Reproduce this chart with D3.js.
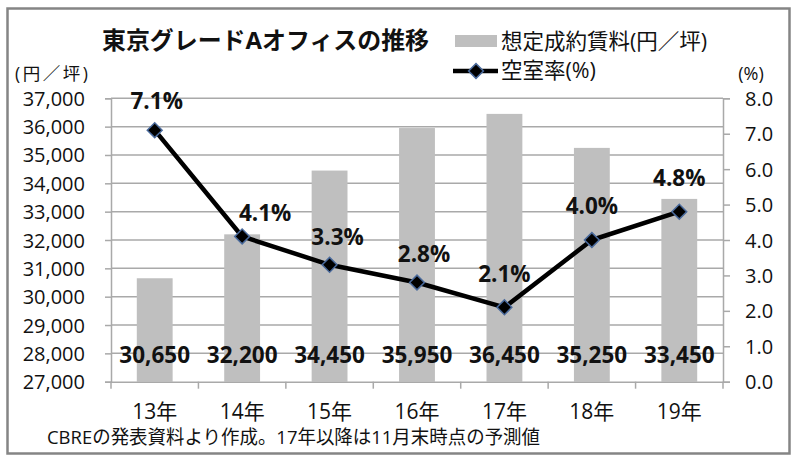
<!DOCTYPE html>
<html><head><meta charset="utf-8">
<script src="https://cdn.jsdelivr.net/npm/d3@7"></script>
<style>
html,body{margin:0;padding:0;background:#fff;}
text{font-family:"Open Sans","Noto Sans CJK JP",sans-serif;fill:#111;}
</style></head>
<body>
<svg id="c" width="800" height="463"></svg>
<script>
const categories = ["13年","14年","15年","16年","17年","18年","19年"];
const rent = [30650, 32200, 34450, 35950, 36450, 35250, 33450];
const vacancy = [7.1, 4.1, 3.3, 2.8, 2.1, 4.0, 4.8];
const rentTicks = [27000,28000,29000,30000,31000,32000,33000,34000,35000,36000,37000];
const vacancyTicks = [0,1,2,3,4,5,6,7,8];
const title = "東京グレードAオフィスの推移";
const legendRent = "想定成約賃料(円／坪)";
const legendVac = "空室率(%)";
const leftUnit = "(円／坪)";
const rightUnit = "(%)";
const caption = "CBREの発表資料より作成。17年以降は11月末時点の予測値";

// layout tweaks for the vacancy labels (pixel nudges, not data)
const labelDx = [2, 23, 8, 7, 0, 0, 0];
const labelDy = [-21, -15, -20, -21, -25, -26, -26];

const svg = d3.select("#c");
const L = 111, R = 723, T = 98.3, B = 381.7;
const gridColor = "#a9a9a9";

svg.append("rect").attr("x",0).attr("y",0).attr("width",800).attr("height",463).attr("fill","#fff");
svg.append("rect").attr("x",7.5).attr("y",8.5).attr("width",782).attr("height",445)
  .attr("fill","none").attr("stroke","#858585").attr("stroke-width",2.5);

const x = d3.scaleBand().domain(categories).range([L,R]).paddingInner(0).paddingOuter(0);
const y = d3.scaleLinear().domain([27000,37000]).range([B,T]);
const y2 = d3.scaleLinear().domain([0,8]).range([B,T]);

// gridlines
svg.append("g").selectAll("line").data(rentTicks.slice(1)).join("line")
  .attr("x1",L).attr("x2",R).attr("y1",d=>y(d)).attr("y2",d=>y(d))
  .attr("stroke",gridColor).attr("stroke-width",1.5);

// bars
const bw = x.bandwidth()*0.41;
svg.append("g").selectAll("rect").data(rent).join("rect")
  .attr("x",(d,i)=>x(categories[i])+x.bandwidth()/2-bw/2)
  .attr("width",bw)
  .attr("y",d=>y(d)).attr("height",d=>B-y(d))
  .attr("fill","#bfbfbf");

// left axis
const gl = svg.append("g").attr("transform",`translate(${L},0)`)
  .call(d3.axisLeft(y).tickValues(rentTicks).tickFormat(d3.format(",")).tickSize(6).tickPadding(20));
gl.select(".domain").attr("stroke",gridColor).attr("stroke-width",1.5);
gl.selectAll(".tick line").attr("stroke",gridColor).attr("stroke-width",1.5);
gl.selectAll(".tick text").style("font-size","20px").attr("fill","#111").attr("dy","0.35em");

// right axis
const gr = svg.append("g").attr("transform",`translate(${R},0)`)
  .call(d3.axisRight(y2).tickValues(vacancyTicks).tickFormat(d3.format(".1f")).tickSize(7).tickPadding(15));
gr.select(".domain").attr("stroke",gridColor).attr("stroke-width",1.5);
gr.selectAll(".tick line").attr("stroke",gridColor).attr("stroke-width",1.5);
gr.selectAll(".tick text").style("font-size","20px").attr("fill","#111").attr("dy","0.35em");

// bottom axis
const gb = svg.append("g").attr("transform",`translate(0,${B})`)
  .call(d3.axisBottom(x).tickSize(0).tickPadding(22));
gb.select(".domain").attr("stroke",gridColor).attr("stroke-width",1.5);
gb.selectAll(".tick text").style("font-size","21px").attr("fill","#111");
svg.append("g").selectAll("line").data(d3.range(categories.length+1)).join("line")
  .attr("x1",i=>L+i*x.step()).attr("x2",i=>L+i*x.step())
  .attr("y1",B).attr("y2",B+7).attr("stroke",gridColor).attr("stroke-width",1.5);

// bar value labels
svg.append("g").selectAll("text").data(rent).join("text")
  .attr("x",(d,i)=>x(categories[i])+x.bandwidth()/2)
  .attr("y",363).attr("text-anchor","middle")
  .style("font-size","22.5px").style("font-weight","bold")
  .text(d=>d3.format(",")(d));

// vacancy line
const line = d3.line().x((d,i)=>x(categories[i])+x.bandwidth()/2).y(d=>y2(d));
svg.append("path").datum(vacancy).attr("d",line)
  .attr("fill","none").attr("stroke","#000").attr("stroke-width",4.5).attr("stroke-linejoin","round");

const diamond = d3.symbol().type(d3.symbolSquare).size(110);
svg.append("g").selectAll("path").data(vacancy).join("path")
  .attr("d",diamond)
  .attr("transform",(d,i)=>`translate(${x(categories[i])+x.bandwidth()/2},${y2(d)}) rotate(45)`)
  .attr("fill","#000").attr("stroke","#4a6a9c").attr("stroke-width",1.5);

svg.append("g").selectAll("text").data(vacancy).join("text")
  .attr("x",(d,i)=>x(categories[i])+x.bandwidth()/2+labelDx[i])
  .attr("y",(d,i)=>y2(d)+labelDy[i]).attr("text-anchor","middle")
  .style("font-size","22.5px").style("font-weight","bold")
  .text(d=>d.toFixed(1)+"%");

// title
svg.append("text").attr("x",102).attr("y",49).style("font-size","24px").style("font-weight","bold")
  .attr("textLength",327).attr("lengthAdjust","spacingAndGlyphs")
  .text(title);

// legend
svg.append("rect").attr("x",455).attr("y",35).attr("width",42).attr("height",12).attr("fill","#bfbfbf");
svg.append("text").attr("x",501).attr("y",49).style("font-size","21.5px").text(legendRent);
svg.append("line").attr("x1",453).attr("x2",498).attr("y1",71).attr("y2",71).attr("stroke","#000").attr("stroke-width",4.5);
svg.append("path").attr("d",diamond).attr("transform","translate(476,71) rotate(45)")
  .attr("fill","#000").attr("stroke","#4a6a9c").attr("stroke-width",1.5);
svg.append("text").attr("x",501).attr("y",78).style("font-size","21.5px").text(legendVac);

// unit labels
svg.append("text").attr("x",15).attr("y",80).style("font-size","17.5px")
  .attr("textLength",73).attr("lengthAdjust","spacing").text(leftUnit);
svg.append("text").attr("x",751).attr("y",80).attr("text-anchor","middle").style("font-size","18px").text(rightUnit);

// caption
svg.append("text").attr("x",47).attr("y",444).style("font-size","19px")
  .attr("textLength",493).attr("lengthAdjust","spacingAndGlyphs").text(caption);
</script>
</body></html>
